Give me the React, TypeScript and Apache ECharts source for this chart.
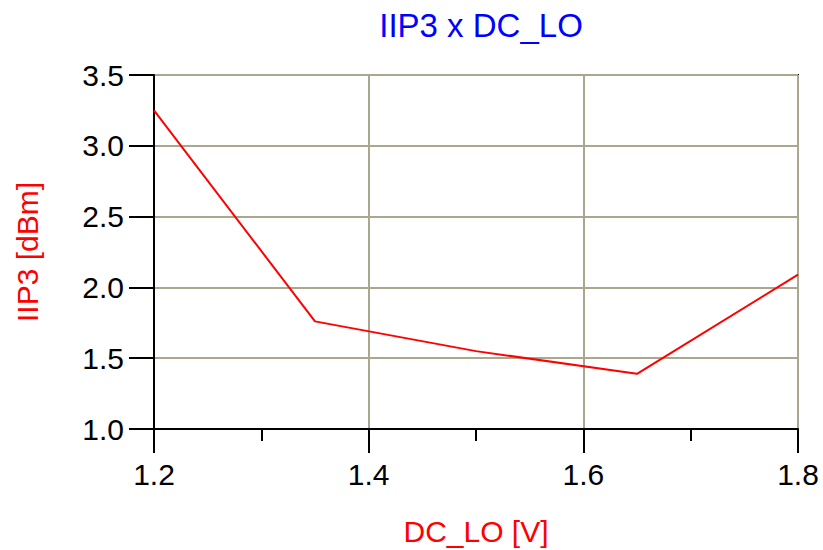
import React, { useEffect, useRef } from "react";
import * as echarts from "echarts";

// Swept LO bias and the measured input third-order intercept point
const dcLo = [1.2, 1.35, 1.5, 1.65, 1.8];
const iip3 = [3.25, 1.76, 1.55, 1.39, 2.09];

const FONT = "Liberation Sans, Arial, sans-serif";
const GRID_COLOR = "#aaa78e";

export default function App() {
  const ref = useRef<HTMLDivElement>(null);

  useEffect(() => {
    if (!ref.current) return;
    const chart = echarts.init(ref.current, undefined, { renderer: "svg" });
    chart.setOption({
      animation: false,
      backgroundColor: "#ffffff",
      title: {
        text: "IIP3 x DC_LO",
        left: 476,
        top: 4,
        textAlign: "center",
        textStyle: { color: "#0000ff", fontFamily: FONT, fontSize: 33, fontWeight: "normal" },
      },
      grid: {
        left: 154,
        right: 25,
        top: 75,
        bottom: 121,
        outerBoundsMode: "none",
        containLabel: false,
        show: true,
        borderColor: "#000000",
        borderWidth: 2,
      },
      xAxis: {
        type: "value",
        min: 1.2,
        max: 1.8,
        interval: 0.2,
        name: "DC_LO [V]",
        nameLocation: "middle",
        nameGap: 87,
        nameTextStyle: { color: "#ff0000", fontFamily: FONT, fontSize: 30 },
        axisLine: { show: true, lineStyle: { color: "#000000", width: 2 } },
        axisTick: { show: true, length: 24, lineStyle: { color: "#000000", width: 2 } },
        minorTick: { show: true, splitNumber: 2, length: 12, lineStyle: { color: "#000000", width: 2 } },
        axisLabel: {
          color: "#000000",
          fontFamily: FONT,
          fontSize: 30,
          margin: 30,
          formatter: (v: number) => v.toFixed(1),
        },
        splitLine: { show: true, lineStyle: { color: GRID_COLOR, width: 2 } },
      },
      yAxis: {
        type: "value",
        min: 1.0,
        max: 3.5,
        interval: 0.5,
        name: "IIP3 [dBm]",
        nameLocation: "middle",
        nameGap: 112,
        nameRotate: 90,
        nameTextStyle: { color: "#ff0000", fontFamily: FONT, fontSize: 30 },
        axisLine: { show: true, lineStyle: { color: "#000000", width: 2 } },
        axisTick: { show: true, length: 25, lineStyle: { color: "#000000", width: 2 } },
        axisLabel: {
          color: "#000000",
          fontFamily: FONT,
          fontSize: 30,
          margin: 30,
          formatter: (v: number) => v.toFixed(1),
        },
        splitLine: { show: true, lineStyle: { color: GRID_COLOR, width: 2 } },
      },
      series: [
        {
          type: "line",
          data: dcLo.map((x, i) => [x, iip3[i]]),
          showSymbol: false,
          lineStyle: { color: "#ff0000", width: 2 },
          itemStyle: { color: "#ff0000" },
        },
      ],
    });
    return () => chart.dispose();
  }, []);

  return (
    <div
      ref={ref}
      style={{ position: "absolute", left: 0, top: 0, width: 823, height: 550 }}
    />
  );
}
